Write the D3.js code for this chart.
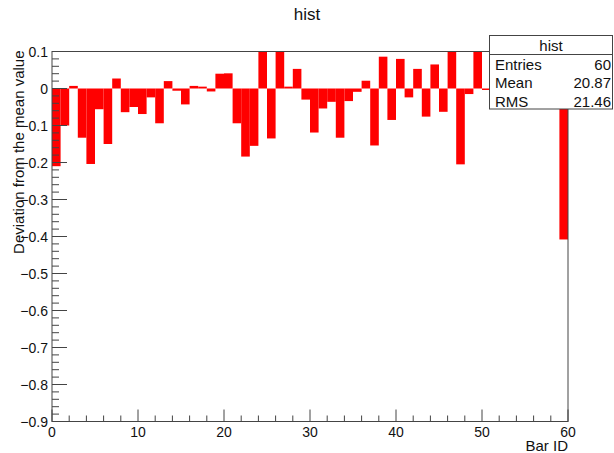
<!DOCTYPE html>
<html>
<head>
<meta charset="utf-8">
<script src="https://cdn.jsdelivr.net/npm/d3@7"></script>
<style>
  html, body { margin: 0; padding: 0; background: #fff; }
  svg { display: block; font-family: "Liberation Sans", Arial, Helvetica, sans-serif; }
</style>
</head>
<body>
<svg id="chart" width="614" height="453"></svg>
<script>
// Histogram: deviation from the mean value for each of 60 bars
const binEdges = [0, 60];
const deviations = [
  -0.210, -0.100, 0.007, -0.133, -0.204, -0.056, -0.150, 0.027, -0.064, -0.050,
  -0.069, -0.024, -0.094, 0.020, -0.006, -0.043, 0.007, 0.005, -0.008, 0.040,
  0.041, -0.094, -0.184, -0.155, 0.130, -0.135, 0.120, 0.005, 0.053, -0.030,
  -0.119, -0.054, -0.036, -0.133, -0.034, -0.009, 0.021, -0.154, 0.086, -0.085,
  0.080, -0.024, 0.053, -0.076, 0.065, -0.063, 0.140, -0.205, -0.015, 0.110,
  -0.004, 0.030, -0.020, 0.060, -0.040, 0.020, -0.030, 0.050, -0.010, -0.408
];
const yDomain = [-0.9, 0.1];
const xTickValues = [0, 10, 20, 30, 40, 50, 60];
const yTickValues = [-0.9, -0.8, -0.7, -0.6, -0.5, -0.4, -0.3, -0.2, -0.1, 0, 0.1];
const statsLabels = ["Entries", "Mean", "RMS"];
const statsValues = ["60", "20.87", "21.46"];

const svg = d3.select("#chart");
const frameL = 52, frameR = 568, frameT = 51.5, frameB = 421.5;

const x = d3.scaleLinear().domain(binEdges).range([frameL, frameR]);
const y = d3.scaleLinear().domain(yDomain).range([frameB, frameT]);

const axisColor = "#444";
const textColor = "#111";

// clip region = frame
svg.append("defs").append("clipPath").attr("id", "frame")
  .append("rect").attr("x", frameL).attr("y", frameT)
  .attr("width", frameR - frameL).attr("height", frameB - frameT);

// bars
const nb = deviations.length;
const bw = (binEdges[1] - binEdges[0]) / nb;
svg.append("g").attr("clip-path", "url(#frame)")
  .selectAll("rect").data(deviations).join("rect")
  .attr("x", (d, i) => x(binEdges[0] + i * bw))
  .attr("width", (d, i) => x(binEdges[0] + (i + 1) * bw) - x(binEdges[0] + i * bw))
  .attr("y", d => Math.min(y(0), y(d)))
  .attr("height", d => Math.abs(y(d) - y(0)))
  .attr("fill", "#ff0000");

// frame
svg.append("rect").attr("x", frameL).attr("y", frameT)
  .attr("width", frameR - frameL).attr("height", frameB - frameT)
  .attr("fill", "none").attr("stroke", axisColor).attr("stroke-width", 1);

// x axis (ticks point inward)
const xMinor = d3.range(0, 61, 2);
svg.append("g").attr("stroke", axisColor).attr("stroke-width", 1)
  .selectAll("line").data(xMinor).join("line")
  .attr("x1", d => x(d)).attr("x2", d => x(d))
  .attr("y1", frameB).attr("y2", d => frameB - (d % 10 === 0 ? 12 : 6));
svg.append("g").selectAll("text").data(xTickValues).join("text")
  .attr("x", d => x(d)).attr("y", 437)
  .attr("text-anchor", "middle").attr("font-size", 14).attr("fill", textColor)
  .text(d => d3.format("d")(d));

// y axis
const yMinor = d3.range(0, 51).map(i => -0.9 + i * 0.02);
svg.append("g").attr("stroke", axisColor).attr("stroke-width", 1)
  .selectAll("line").data(yMinor).join("line")
  .attr("x1", frameL).attr("y1", d => y(d)).attr("y2", d => y(d))
  .attr("x2", (d, i) => frameL + (i % 5 === 0 ? 15 : 7));
svg.append("g").selectAll("text").data(yTickValues).join("text")
  .attr("x", 48).attr("y", d => y(d) + 5)
  .attr("text-anchor", "end").attr("font-size", 14).attr("fill", textColor)
  .text(d => d === 0 ? "0" : d3.format(".1f")(d));

// titles
svg.append("text").attr("x", 307).attr("y", 20)
  .attr("text-anchor", "middle").attr("font-size", 17).attr("fill", textColor)
  .text("hist");
svg.append("text").attr("x", frameR).attr("y", 451)
  .attr("text-anchor", "end").attr("font-size", 15).attr("fill", textColor)
  .text("Bar ID");
svg.append("text")
  .attr("transform", `translate(24,${frameT - 1}) rotate(-90)`)
  .attr("text-anchor", "end").attr("font-size", 15).attr("fill", textColor)
  .text("Deviation from the mean value");

// statistics box
const sb = svg.append("g");
sb.append("rect").attr("x", 489.5).attr("y", 35.5).attr("width", 123).attr("height", 73.5)
  .attr("fill", "#fff").attr("stroke", axisColor).attr("stroke-width", 1);
sb.append("line").attr("x1", 489.5).attr("x2", 612.5).attr("y1", 54.5).attr("y2", 54.5)
  .attr("stroke", axisColor);
sb.append("text").attr("x", 551).attr("y", 50.5).attr("text-anchor", "middle")
  .attr("font-size", 15).attr("fill", textColor).text("hist");
sb.selectAll("text.lab").data(statsLabels).join("text").attr("class", "lab")
  .attr("x", 495).attr("y", (d, i) => 70 + i * 18.3)
  .attr("font-size", 15).attr("fill", textColor).text(d => d);
sb.selectAll("text.val").data(statsValues).join("text").attr("class", "val")
  .attr("x", 611).attr("y", (d, i) => 70 + i * 18.3).attr("text-anchor", "end")
  .attr("font-size", 15).attr("fill", textColor).text(d => d);
</script>
</body>
</html>
